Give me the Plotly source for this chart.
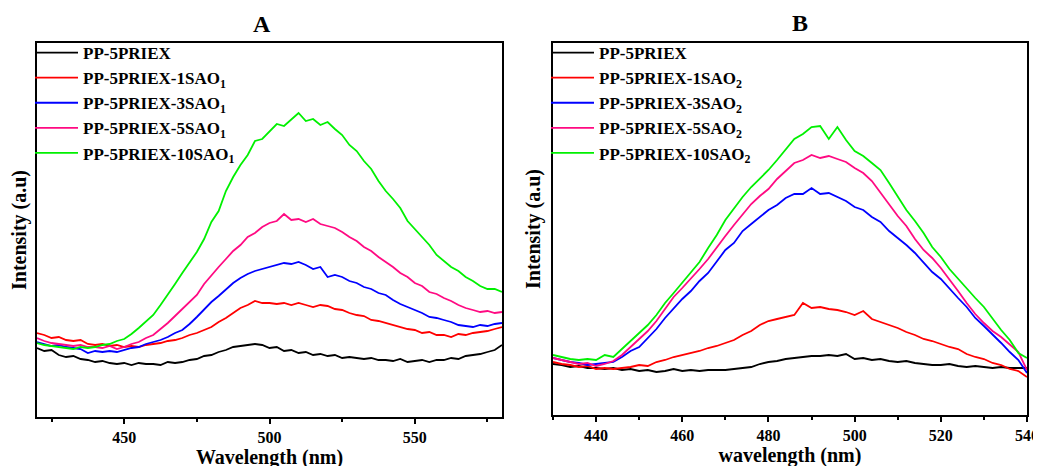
import plotly.graph_objects as go

# ---------------- Panel A data (wavelength 420..580 nm, step 2.5) ----------------
wl_a = [420 + 2.5 * i for i in range(65)]

a_black = [69, 66, 67, 62, 60, 61, 58, 57, 55, 56, 54, 53, 54, 52, 54, 53, 53, 52, 55, 54,
           55, 57, 58, 61, 62, 65, 67, 70, 71, 72, 73, 72, 69, 70, 66, 67, 64, 65, 62, 63,
           61, 62, 59, 60, 59, 58, 59, 57, 57, 56, 58, 55, 56, 57, 55, 57, 57, 59, 58, 61,
           62, 63, 65, 67, 72]
a_red = [84, 82, 79, 80, 77, 76, 77, 73, 72, 73, 71, 72, 70, 71, 70, 72, 73, 74, 76, 77,
         79, 82, 84, 87, 90, 95, 99, 104, 109, 112, 116, 114, 114, 113, 114, 112, 114, 112, 110, 112,
         111, 108, 107, 104, 102, 101, 97, 96, 94, 92, 90, 88, 87, 84, 85, 82, 82, 80, 83, 82,
         84, 85, 86, 88, 90]
a_blue = [75, 73, 71, 72, 70, 69, 68, 64, 66, 65, 66, 65, 67, 69, 70, 73, 75, 77, 80, 84,
          87, 93, 100, 108, 115, 121, 128, 134, 139, 143, 146, 148, 150, 152, 154, 153, 155, 152, 148, 150,
          140, 142, 140, 136, 134, 130, 128, 124, 122, 117, 113, 110, 107, 104, 100, 99, 97, 95, 92, 91,
          90, 92, 91, 93, 94]
a_pink = [79, 76, 74, 73, 72, 71, 72, 70, 70, 69, 71, 68, 70, 73, 75, 79, 82, 88, 94, 101,
          108, 116, 122, 133, 142, 150, 158, 166, 172, 180, 184, 190, 194, 196, 203, 197, 198, 195, 198, 193,
          191, 189, 185, 180, 176, 170, 166, 160, 155, 150, 144, 140, 134, 131, 125, 123, 119, 116, 112, 109,
          107, 105, 106, 104, 105]
a_green = [74, 72, 71, 70, 69, 68, 70, 69, 70, 72, 73, 76, 78, 83, 89, 96, 102, 112, 122, 133,
           144, 154, 165, 178, 195, 206, 226, 240, 252, 262, 276, 278, 286, 293, 291, 298, 304, 296, 298, 292,
           295, 288, 282, 272, 266, 256, 248, 236, 226, 218, 209, 196, 188, 180, 172, 162, 156, 150, 146, 140,
           136, 131, 128, 128, 125]

# ---------------- Panel B data (wavelength 430..540 nm, step 2) ----------------
wl_b = [430 + 2 * i for i in range(56)]

b_black = [51, 50, 48, 49, 47, 47, 46, 47, 45, 46, 44, 45, 43, 44, 46, 44, 45, 44, 45, 45,
           45, 46, 47, 48, 51, 53, 54, 56, 57, 58, 59, 59, 60, 59, 61, 56, 57, 55, 56, 54,
           53, 54, 52, 51, 50, 50, 51, 49, 48, 49, 48, 47, 48, 47, 47, 47]
b_red = [53, 51, 50, 48, 49, 46, 47, 46, 47, 48, 50, 49, 53, 55, 58, 60, 62, 64, 67, 69,
         72, 75, 80, 84, 90, 94, 96, 98, 100, 112, 107, 108, 106, 105, 103, 100, 104, 96, 93, 90,
         87, 83, 80, 76, 74, 71, 68, 66, 61, 58, 56, 52, 50, 46, 44, 38]
b_blue = [57, 55, 53, 52, 50, 51, 52, 53, 58, 64, 68, 77, 86, 97, 107, 116, 124, 134, 142, 154,
          165, 172, 184, 191, 198, 205, 210, 217, 221, 221, 227, 221, 222, 218, 214, 208, 205, 198, 193, 184,
          177, 170, 162, 152, 143, 136, 126, 117, 108, 97, 89, 81, 72, 63, 55, 42]
b_pink = [57, 55, 53, 51, 52, 49, 51, 54, 60, 68, 76, 84, 94, 106, 118, 127, 136, 146, 156, 168,
          179, 190, 200, 211, 219, 226, 236, 244, 252, 255, 260, 257, 259, 256, 253, 247, 242, 234, 222, 210,
          199, 189, 176, 165, 157, 147, 136, 124, 112, 101, 92, 84, 78, 70, 63, 45]
b_green = [60, 58, 56, 55, 56, 55, 60, 58, 66, 74, 82, 90, 100, 112, 122, 132, 142, 153, 167, 180,
           195, 207, 218, 228, 236, 245, 255, 266, 276, 281, 288, 289, 276, 288, 275, 264, 259, 252, 245, 232,
           218, 205, 194, 182, 168, 158, 146, 136, 126, 117, 108, 96, 85, 75, 62, 57]

names_a = ["PP-5PRIEX", "PP-5PRIEX-1SAO<sub>1</sub>", "PP-5PRIEX-3SAO<sub>1</sub>",
           "PP-5PRIEX-5SAO<sub>1</sub>", "PP-5PRIEX-10SAO<sub>1</sub>"]
names_b = ["PP-5PRIEX", "PP-5PRIEX-1SAO<sub>2</sub>", "PP-5PRIEX-3SAO<sub>2</sub>",
           "PP-5PRIEX-5SAO<sub>2</sub>", "PP-5PRIEX-10SAO<sub>2</sub>"]
colors = ["#000000", "#FF0000", "#0000FF", "#FF0A82", "#00F000"]

FONT = "Liberation Serif, Times New Roman, serif"

fig = go.Figure()
for name, ys, c in zip(names_a, [a_black, a_red, a_blue, a_pink, a_green], colors):
    fig.add_trace(go.Scatter(x=wl_a, y=ys, name=name, mode="lines",
                             line=dict(color=c, width=1.8), xaxis="x", yaxis="y",
                             legend="legend"))
for name, ys, c in zip(names_b, [b_black, b_red, b_blue, b_pink, b_green], colors):
    fig.add_trace(go.Scatter(x=wl_b, y=ys, name=name, mode="lines",
                             line=dict(color=c, width=1.8), xaxis="x2", yaxis="y2",
                             legend="legend2"))

W, H = 1041, 466
OFF = 8  # the page body adds an 8px margin; place everything relative to that


def px(x):
    return (x - OFF) / W


def py(y):
    return 1 - (y - OFF) / H


tickfont = dict(family=FONT, size=16, color="black", weight="bold")
titlefont = dict(family=FONT, size=20, color="black", weight="bold")

common_x = dict(showline=True, linecolor="black", linewidth=1.5, mirror=True,
                ticks="outside", ticklen=5, tickwidth=1.5, tickcolor="black",
                showgrid=False, zeroline=False, tickfont=tickfont, automargin=False)
common_y = dict(showline=True, linecolor="black", linewidth=1.5, mirror=True,
                ticks="", showticklabels=False, showgrid=False, zeroline=False,
                automargin=False)

legend_common = dict(font=dict(family=FONT, size=17, color="black", weight="bold"),
                     bgcolor="rgba(0,0,0,0)", borderwidth=0, itemwidth=43,
                     xanchor="left", yanchor="top", tracegroupgap=0)

fig.update_layout(
    template="none",
    width=W, height=H,
    margin=dict(l=0, r=0, t=0, b=0, pad=0, autoexpand=False),
    paper_bgcolor="white", plot_bgcolor="white",
    showlegend=True,
    xaxis=dict(domain=[px(37), px(502)], range=[420, 580], dtick=50, tick0=400,
               minor=dict(dtick=25, ticklen=3, tickwidth=1.5, tickcolor="black", ticks="outside"),
               title=dict(text="Wavelength (nm)", font=titlefont, standoff=3),
               anchor="y", **common_x),
    yaxis=dict(domain=[py(417), py(43)], range=[0, 374], anchor="x",
               title=dict(text="Intensity (a.u)", font=titlefont, standoff=3), **common_y),
    xaxis2=dict(domain=[px(553), px(1027)], range=[430, 540], dtick=20, tick0=400,
                minor=dict(dtick=10, ticklen=3, tickwidth=1.5, tickcolor="black", ticks="outside"),
                title=dict(text="wavelength (nm)", font=titlefont, standoff=3),
                anchor="y2", **common_x),
    yaxis2=dict(domain=[py(415), py(43)], range=[0, 372], anchor="x2",
                title=dict(text="Intensity (a.u)", font=titlefont, standoff=5), **common_y),
    legend=dict(x=px(30), y=py(35), **legend_common),
    legend2=dict(x=px(546), y=py(35), **legend_common),
    annotations=[
        dict(text="A", x=px(262), y=py(24), xref="paper", yref="paper", showarrow=False,
             xanchor="center", yanchor="middle",
             font=dict(family=FONT, size=24, color="black", weight="bold")),
        dict(text="B", x=px(800), y=py(23), xref="paper", yref="paper", showarrow=False,
             xanchor="center", yanchor="middle",
             font=dict(family=FONT, size=24, color="black", weight="bold")),
    ],
)

fig.write_html("out.html")
